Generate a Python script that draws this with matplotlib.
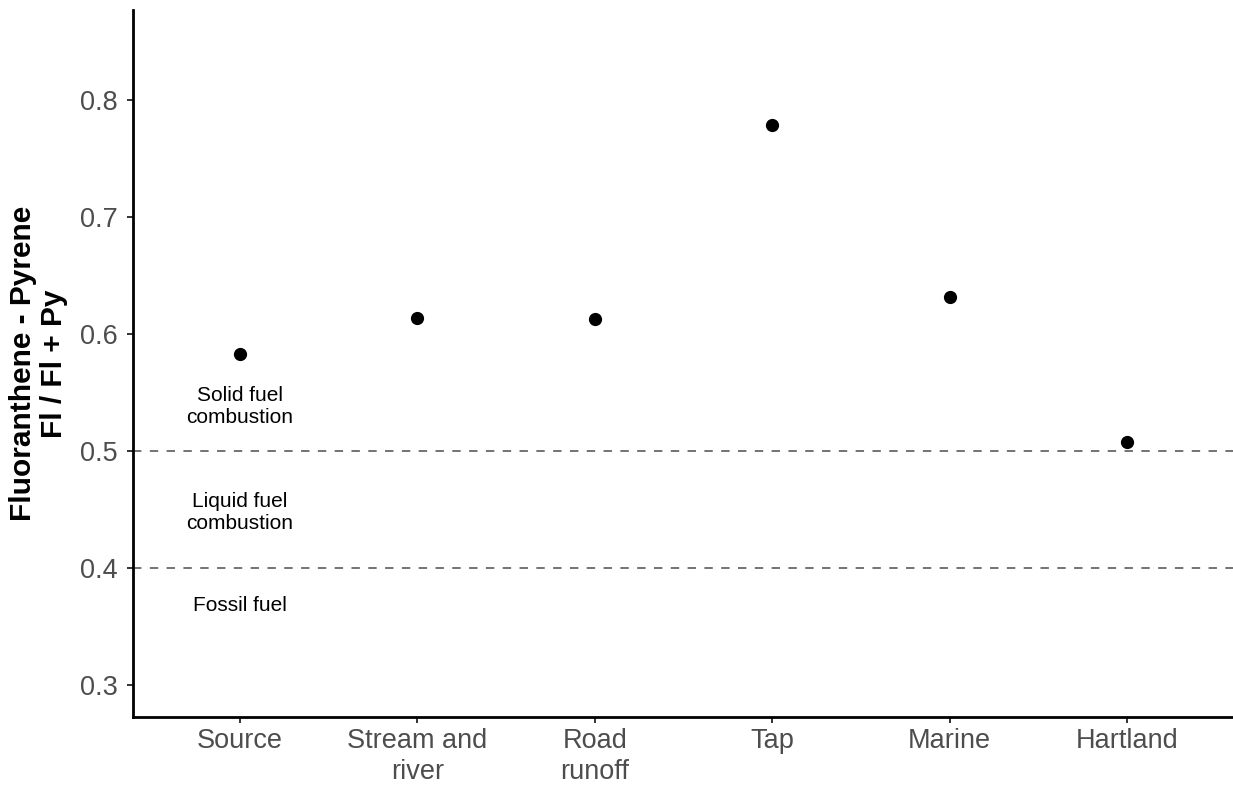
import matplotlib
matplotlib.use("Agg")
import matplotlib.pyplot as plt

plt.rcParams['font.family'] = ['Liberation Sans', 'DejaVu Sans']

# Sample groups and their fluoranthene / (fluoranthene + pyrene) ratio
categories = ["Source", "Stream and\nriver", "Road\nrunoff", "Tap", "Marine", "Hartland"]
ratios = [0.583, 0.614, 0.613, 0.779, 0.632, 0.508]

# Source-diagnostic thresholds and their zone labels
thresholds = [0.5, 0.4]
zone_labels = ["Solid fuel\ncombustion", "Liquid fuel\ncombustion", "Fossil fuel"]
zone_label_y = [0.538, 0.448, 0.368]

yticks = [0.3, 0.4, 0.5, 0.6, 0.7, 0.8]

fig = plt.figure(figsize=(12.33, 7.87), dpi=100)
ax = fig.add_axes([0.1081, 0.0889, 0.8925, 0.8984])

xpos = list(range(1, len(categories) + 1))

for t in thresholds:
    ax.axhline(t, color="#4D4D4D", linewidth=1.1, dashes=(5.5, 5.5), zorder=1)

ax.plot(xpos, ratios, linestyle="none", marker="o", markersize=8.5,
        color="black", zorder=3)

for lbl, yv in zip(zone_labels, zone_label_y):
    ax.text(xpos[0], yv, lbl, ha="center", va="center", fontsize=15,
            color="black", linespacing=1.22)

ax.set_xlim(0.4, 6.6)
ax.set_ylim(0.273, 0.877)
ax.set_xticks(xpos)
ax.set_xticklabels(categories)
ax.set_yticks(yticks)
ax.set_yticklabels([f"{v:.1f}" for v in yticks])

for side in ["top", "right"]:
    ax.spines[side].set_visible(False)
for side in ["left", "bottom"]:
    ax.spines[side].set_linewidth(2.0)
    ax.spines[side].set_color("black")

ax.tick_params(axis="both", length=4, width=1.4, color="#333333",
               labelcolor="#4D4D4D", labelsize=19.5)
ax.tick_params(axis="y", pad=7)
ax.tick_params(axis="x", pad=4)
for lab in ax.get_xticklabels():
    lab.set_linespacing(1.22)

ax.set_ylabel("Fluoranthene - Pyrene\nFl / Fl + Py", fontsize=21.5,
              fontweight="bold", linespacing=1.13)
ax.yaxis.set_label_coords(-0.0593, 0.5)

fig.savefig("out.png", dpi=100)
